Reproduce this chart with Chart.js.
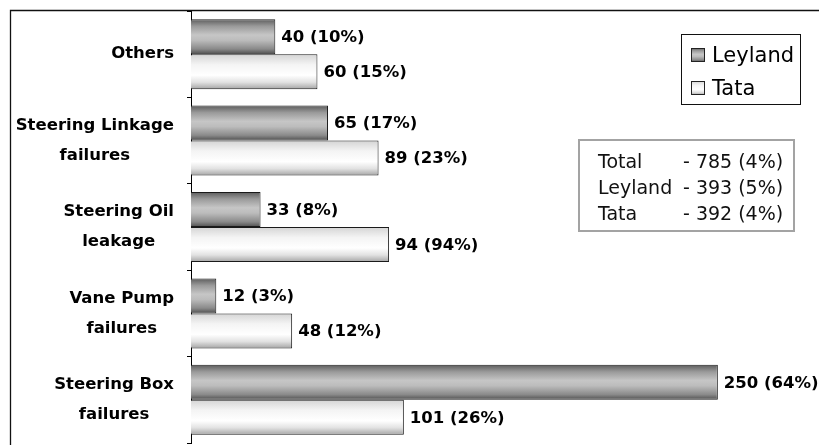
<!DOCTYPE html>
<html>
<head>
<meta charset="utf-8">
<script src="https://cdn.jsdelivr.net/npm/chart.js@4.4.1/dist/chart.umd.min.js"></script>
<style>
  body { margin: 0; background: #fff; }
  #wrap { position: relative; width: 819px; height: 445px; overflow: hidden; }
  #totals {
    position: absolute; left: 578px; top: 139px; width: 213px; height: 82px;
    border: 2px solid #a3a3a3; padding-top: 7px;
    font-family: "DejaVu Sans", sans-serif; font-size: 19px; line-height: 26px; color: #111;
  }
  #totals .row { display: grid; grid-template-columns: 85px auto; padding-left: 18px; white-space: pre; }
</style>
</head>
<body>
<div id="wrap">
  <canvas id="failChart" width="819" height="445"></canvas>
  <div id="totals"></div>
</div>
<script>
const categories = [['Others'], ['Steering Linkage', 'failures'], ['Steering Oil', 'leakage'], ['Vane Pump', 'failures'], ['Steering Box', 'failures']];
const seriesNames = ['Leyland', 'Tata'];
const leylandValues = [40, 65, 33, 12, 250];
const leylandPct = [10, 17, 8, 3, 64];
const tataValues = [60, 89, 94, 48, 101];
const tataPct = [15, 23, 94, 12, 26];
const totalNames = ['Total', 'Leyland', 'Tata'];
const totalValues = [785, 393, 392];
const totalPct = [4, 5, 4];

// gradient stops per series (dark steel for Leyland, light for Tata)
const fills = [
  [[0, '#5c5c5c'], [0.2, '#9a9a9a'], [0.45, '#c6c6c6'], [0.6, '#bcbcbc'], [0.85, '#8a8a8a'], [1, '#4e4e4e']],
  [[0, '#d4d4d4'], [0.3, '#f4f4f4'], [0.6, '#ffffff'], [0.8, '#e2e2e2'], [1, '#a4a4a4']]
];
const pctArrays = [leylandPct, tataPct];

function makeGrad(ctx, top, bottom, i) {
  const g = ctx.createLinearGradient(0, top, 0, bottom);
  fills[i].forEach(([o, c]) => g.addColorStop(o, c));
  return g;
}

document.getElementById('totals').innerHTML = totalNames.map((n, i) =>
  `<div class="row"><span>${n}</span><span>- ${totalValues[i]} (${totalPct[i]}%)</span></div>`).join('');

const gradientBars = {
  id: 'gradientBars',
  beforeDatasetsDraw(chart) {
    chart.data.datasets.forEach((ds, di) => {
      chart.getDatasetMeta(di).data.forEach(el => {
        const top = el.y - el.height / 2;
        el.options = Object.assign({}, el.options, { backgroundColor: makeGrad(chart.ctx, top, top + el.height, di) });
      });
    });
  }
};

const valueLabels = {
  id: 'valueLabels',
  afterDatasetsDraw(chart) {
    const ctx = chart.ctx;
    ctx.save();
    ctx.font = 'bold 16.5px "DejaVu Sans"';
    ctx.fillStyle = '#000';
    ctx.textAlign = 'left';
    ctx.textBaseline = 'middle';
    chart.data.datasets.forEach((ds, di) => {
      chart.getDatasetMeta(di).data.forEach((el, i) => {
        ctx.fillText(`${ds.data[i]} (${pctArrays[di][i]}%)`, el.x + 6, el.y + 1);
      });
    });
    ctx.restore();
  }
};

const sideLabels = {
  id: 'sideLabels',
  afterDraw(chart) {
    const { ctx, scales: { y } } = chart;
    ctx.save();
    ctx.font = 'bold 16.5px "DejaVu Sans"';
    ctx.fillStyle = '#000';
    ctx.textAlign = 'center';
    ctx.textBaseline = 'middle';
    chart.data.labels.forEach((lines, i) => {
      const cy = y.getPixelForTick(i);
      const w = Math.max(...lines.map(l => ctx.measureText(l).width));
      const cx = y.right - 17 - w / 2;
      lines.forEach((l, j) => ctx.fillText(l, cx, cy + (j - (lines.length - 1) / 2) * 30));
    });

    // frame
    ctx.strokeStyle = '#111';
    ctx.lineWidth = 1.3;
    ctx.beginPath();
    ctx.moveTo(10.5, 445); ctx.lineTo(10.5, 10.5); ctx.lineTo(819, 10.5);
    ctx.stroke();

    // legend
    ctx.lineWidth = 1;
    ctx.strokeStyle = '#111';
    ctx.strokeRect(681.5, 34.5, 119, 70);
    ctx.font = '21px "DejaVu Sans"';
    ctx.textAlign = 'left';
    ctx.textBaseline = 'alphabetic';
    chart.data.datasets.forEach((ds, di) => {
      const top = 48 + di * 33;
      ctx.fillStyle = makeGrad(ctx, top, top + 14, di);
      ctx.fillRect(691, top, 14, 14);
      ctx.strokeStyle = '#222';
      ctx.strokeRect(691.5, top + 0.5, 13, 13);
      ctx.fillStyle = '#000';
      ctx.fillText(ds.label, 712, 62 + di * 33);
    });
    ctx.restore();
  }
};

new Chart(document.getElementById('failChart').getContext('2d'), {
  type: 'bar',
  data: {
    labels: categories,
    datasets: [
      { label: seriesNames[0], data: leylandValues, backgroundColor: '#999', borderColor: '#1a1a1a', borderWidth: 1 },
      { label: seriesNames[1], data: tataValues, backgroundColor: '#eee', borderColor: '#1a1a1a', borderWidth: 1 }
    ]
  },
  options: {
    indexAxis: 'y',
    responsive: false,
    animation: false,
    datasets: { bar: { categoryPercentage: 0.81, barPercentage: 1 } },
    layout: { padding: { top: 11, bottom: 2, left: 0, right: 0 } },
    plugins: { legend: { display: false }, tooltip: { enabled: false } },
    scales: {
      x: { display: false, min: 0, max: 298 },
      y: {
        grid: { drawOnChartArea: false, color: '#000', tickLength: 4, offset: true },
        border: { color: '#000', width: 1 },
        ticks: { display: false },
        afterFit: s => { s.width = 191; }
      }
    }
  },
  plugins: [gradientBars, valueLabels, sideLabels]
});
</script>
</body>
</html>
